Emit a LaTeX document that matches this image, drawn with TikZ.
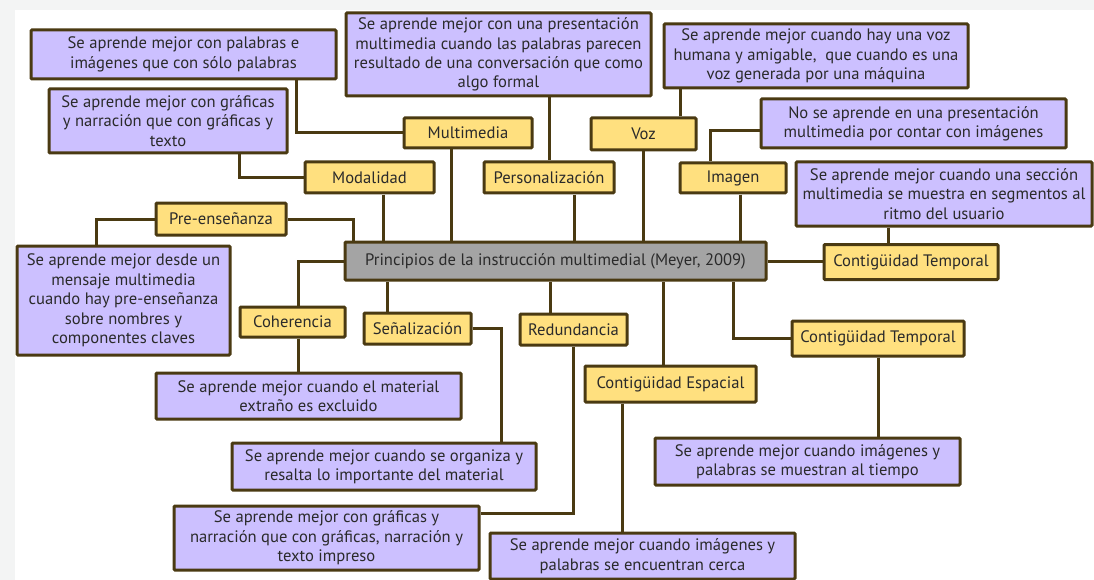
\documentclass[tikz,border=0pt]{standalone}
\usepackage{fontspec}
\setmainfont{PT Sans}
\definecolor{lila}{HTML}{CCC0FF}
\definecolor{amarillo}{HTML}{FFE07F}
\definecolor{gris}{HTML}{A4A4A4}
\definecolor{borde}{HTML}{4A3A12}
\definecolor{texto}{HTML}{2A2A2A}
\definecolor{fondo}{HTML}{F3F4F4}
\tikzset{
  concepto/.style={draw=borde, line width=3pt, fill=amarillo, text=texto,
    inner sep=0pt, align=center, rounded corners=1pt,
    font=\fontsize{16.6}{19.4}\selectfont},
  frase/.style={concepto, fill=lila},
  central/.style={concepto, fill=gris},
  enlace/.style={draw=borde, line width=3pt},
}
\begin{document}
\begin{tikzpicture}[x=1pt,y=-1pt]
\useasboundingbox (0,0) rectangle (1094,580);
\fill[fondo] (0,0) rectangle (1094,580);
\fill[white] (15,10) rectangle (1094,580);

% concepto central
\node[central, minimum width=421, minimum height=38] (main) at (555.5,261) {Principios de la instrucción multimedial (Meyer, 2009)};

% conceptos de arriba
\node[concepto, minimum width=128, minimum height=30] (multi) at (468,133) {Multimedia};
\node[concepto, minimum width=129, minimum height=31] (modal) at (369.5,177.5) {Modalidad};
\node[concepto, minimum width=130, minimum height=32] (pre) at (221,219) {Pre-enseñanza};
\node[concepto, minimum width=130, minimum height=31] (pers) at (549,177.5) {Personalización};
\node[concepto, minimum width=105, minimum height=32] (voz) at (643.5,134) {Voz};
\node[concepto, minimum width=106, minimum height=30] (imagen) at (733,178) {Imagen};
\node[concepto, minimum width=174, minimum height=35] (ct1) at (911,262) {Contigüidad Temporal};

% conceptos de abajo
\node[concepto, minimum width=105, minimum height=30] (coh) at (292.5,322) {Coherencia};
\node[concepto, minimum width=107, minimum height=31] (sen) at (417.5,328.5) {Señalización};
\node[concepto, minimum width=107, minimum height=31] (red) at (573.5,329.5) {Redundancia};
\node[concepto, minimum width=171, minimum height=36] (ce) at (670.5,384) {Contigüidad Espacial};
\node[concepto, minimum width=172, minimum height=35] (ct2) at (878,338.5) {Contigüidad Temporal};

% frases
\node[frase, minimum width=305, minimum height=49] (a1) at (183.5,54.5) {Se aprende mejor con palabras e\\imágenes que con sólo palabras};
\node[frase, minimum width=238, minimum height=64] (a2) at (168,121) {Se aprende mejor con gráficas\\y narración que con gráficas y\\texto};
\node[frase, minimum width=305, minimum height=83] (b) at (498.5,54.5) {Se aprende mejor con una presentación\\multimedia cuando las palabras parecen\\resultado de una conversación que como\\algo formal};
\node[frase, minimum width=304, minimum height=64] (c) at (816,56) {Se aprende mejor cuando hay una voz\\humana y amigable,\ \ que cuando es una\\voz generada por una máquina};
\node[frase, minimum width=305, minimum height=49] (d) at (913.5,123.5) {No se aprende en una presentación\\multimedia por contar con imágenes};
\node[frase, minimum width=296, minimum height=64] (e) at (944,194) {Se aprende mejor cuando una sección\\multimedia se muestra en segmentos al\\ritmo del usuario};
\node[frase, minimum width=213, minimum height=109] (pdesc) at (123.5,300.5) {Se aprende mejor desde un\\mensaje multimedia\\cuando hay pre-enseñanza\\sobre nombres y\\componentes claves};
\node[frase, minimum width=305, minimum height=46] (f) at (308.5,396) {Se aprende mejor cuando el material\\extraño es excluido};
\node[frase, minimum width=304, minimum height=47] (g) at (384,466.5) {Se aprende mejor cuando se organiza y\\resalta lo importante del material};
\node[frase, minimum width=305, minimum height=64] (h) at (326.5,538) {Se aprende mejor con gráficas y\\narración que con gráficas, narración y\\texto impreso};
\node[frase, minimum width=305, minimum height=46] (i) at (642.5,556) {Se aprende mejor cuando imágenes y\\palabras se encuentran cerca};
\node[frase, minimum width=305, minimum height=47] (j) at (807.5,461.5) {Se aprende mejor cuando imágenes y\\palabras se muestran al tiempo};

% enlaces
\draw[enlace] (pre.east) -| ([xshift=10]main.north west);
\draw[enlace] (pre.west) -| ([xshift=-27.5]pdesc.north);
\draw[enlace] ([xshift=13.5]modal.south) -- ([xshift=13.5]modal.south |- main.north);
\draw[enlace] (modal.west) -| ([xshift=71]a2.south);
\draw[enlace] ([xshift=-17]multi.south) -- ([xshift=-17]multi.south |- main.north);
\draw[enlace] (multi.west) -| ([xshift=112.5]a1.south);
\draw[enlace] ([xshift=25]pers.south) -- ([xshift=25]pers.south |- main.north);
\draw[enlace] (pers.north) -- (pers.north |- b.south);
\draw[enlace] (voz.south) -- (voz.south |- main.north);
\draw[enlace] ([xshift=36.5]voz.north) -- ([xshift=36.5]voz.north |- c.south);
\draw[enlace] ([xshift=7]imagen.south) -- ([xshift=7]imagen.south |- main.north);
\draw[enlace] ([xshift=-23]imagen.north) |- ([yshift=-7.5]d.west);
\draw[enlace] (main.east) -- (main.east -| ct1.west);
\draw[enlace] ([xshift=-23]ct1.north) -- ([xshift=-23]ct1.north |- e.south);

\draw[enlace] (main.west) -| ([xshift=5.5]coh.north);
\draw[enlace] ([xshift=5.5]coh.south) -- ([xshift=5.5]coh.south |- f.north);
\draw[enlace] ([xshift=-30.5]sen.north) -- ([xshift=-30.5]sen.north |- main.south);
\draw[enlace] (sen.east) -| ([xshift=117]g.north);
\draw[enlace] ([xshift=-23.5]red.north) -- ([xshift=-23.5]red.north |- main.south);
\draw[enlace] (red.south) |- ([yshift=25]h.east);
\draw[enlace] ([xshift=-7.5]ce.north) -- ([xshift=-7.5]ce.north |- main.south);
\draw[enlace] ([xshift=-48.5]ce.south) -- ([xshift=-48.5]ce.south |- i.north);
\draw[enlace] ([xshift=177.5]main.south) |- (ct2.west);
\draw[enlace] (ct2.south) -- (ct2.south |- j.north);
\end{tikzpicture}
\end{document}
